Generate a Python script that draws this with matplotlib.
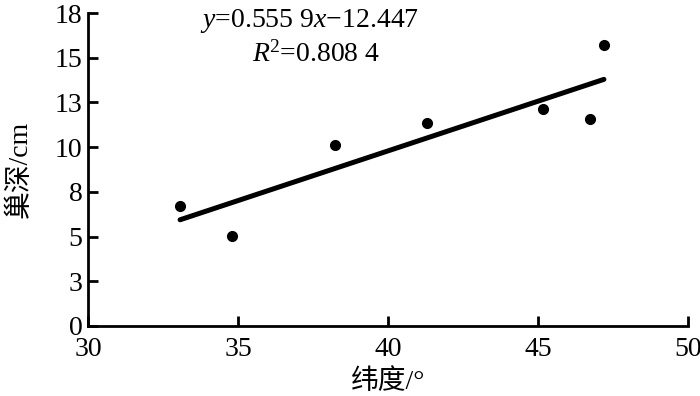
import numpy as np
import matplotlib
matplotlib.use('Agg')
import matplotlib.pyplot as plt

plt.rcParams['font.family'] = ['Liberation Serif', 'Noto Sans CJK SC']
plt.rcParams['mathtext.fontset'] = 'custom'
plt.rcParams['mathtext.it'] = 'Liberation Serif:italic'
plt.rcParams['mathtext.rm'] = 'Liberation Serif'

# latitude (deg) and nest depth (cm)
latitude = [33.07, 34.81, 38.23, 41.29, 45.16, 46.73, 47.2]
nest_depth = [6.72, 5.03, 10.11, 11.36, 12.14, 11.55, 15.74]

# fit reported in the figure
slope = 0.5559
intercept = -12.447

y_ticks = [0, 2.5, 5, 7.5, 10, 12.5, 15, 17.5]
y_labels = ['0', '3', '5', '8', '10', '13', '15', '18']
x_ticks = [30, 35, 40, 45, 50]

fig = plt.figure(figsize=(7, 3.96), dpi=100)
ax = fig.add_axes([0.1257, 0.177, 0.857, 0.79])

ax.plot(latitude, nest_depth, 'o', color='black', markersize=7)
xfit = np.array([min(latitude), max(latitude)])
ax.plot(xfit, slope * xfit + intercept, color='black', lw=3.6, solid_capstyle='round')

ax.set_xlim(30, 50)
ax.set_ylim(0, 17.5)
ax.set_xticks(x_ticks)
ax.set_yticks(y_ticks)
ax.set_yticklabels(y_labels)
ax.tick_params(direction='in', length=7, width=2, labelsize=20, pad=4)
ax.tick_params(axis='x', pad=8)

for side in ['top', 'right']:
    ax.spines[side].set_visible(False)
for side in ['left', 'bottom']:
    ax.spines[side].set_linewidth(2)

ax.set_xlabel('纬度/°', fontsize=20, labelpad=5)
ax.set_ylabel('巢深/cm', fontsize=20, labelpad=16)

ax.text(0.37, 1.02, '$y$=0.555 9$x$\u221212.447', transform=ax.transAxes,
        fontsize=20, ha='center', va='top')
ax.text(0.38, 0.91, '$R$$^{2}$=0.808 4', transform=ax.transAxes,
        fontsize=20, ha='center', va='top')

fig.savefig('out.png', dpi=100)
